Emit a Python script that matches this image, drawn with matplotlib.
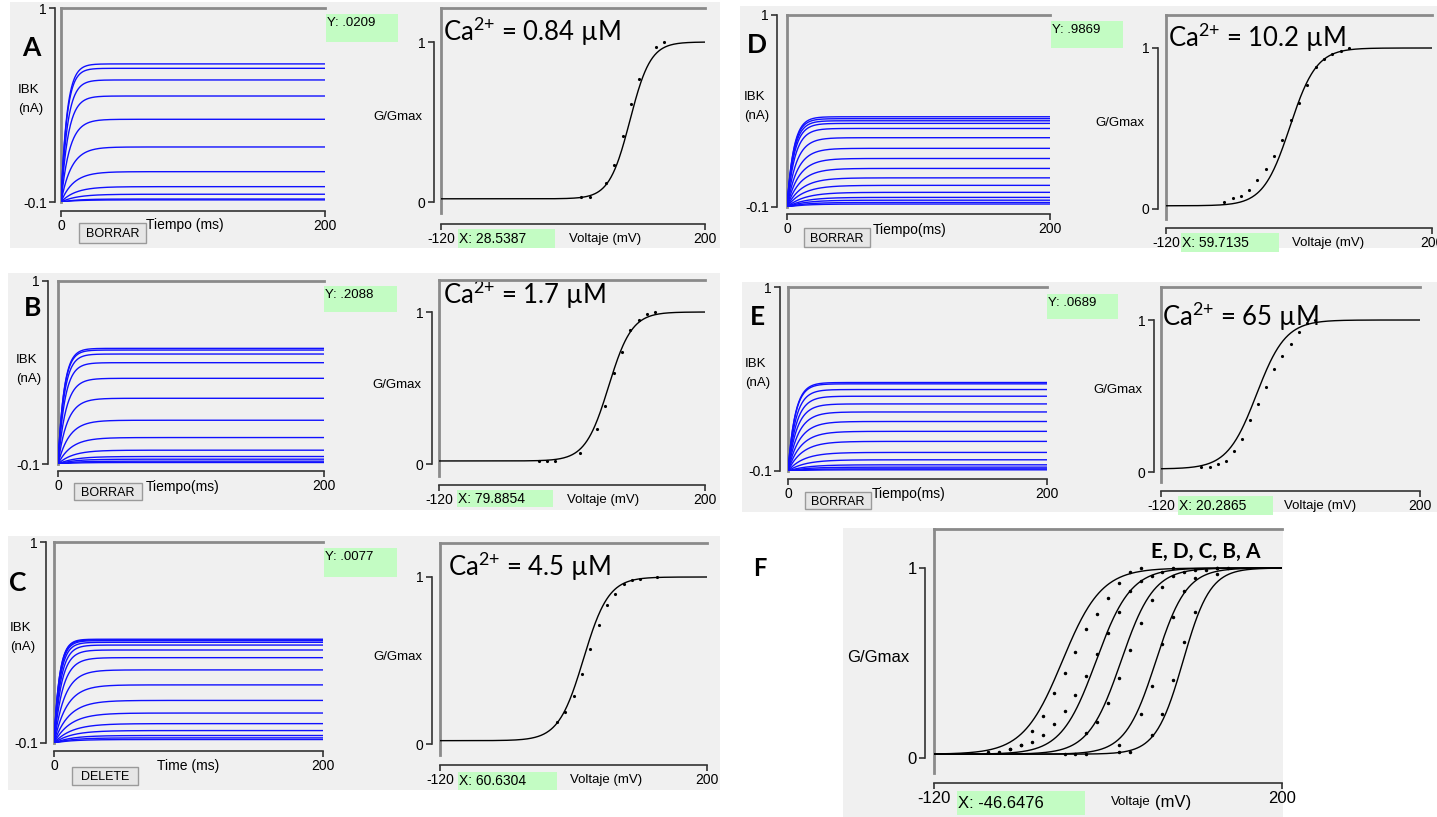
import numpy as np
import matplotlib
matplotlib.use('Agg')
import matplotlib.pyplot as plt
from matplotlib.patches import Rectangle

plt.rcParams['font.family'] = ['Liberation Sans', 'DejaVu Sans']
plt.rcParams['mathtext.fontset'] = 'custom'
plt.rcParams['mathtext.rm'] = 'Lato'
plt.rcParams['mathtext.default'] = 'rm'

# ---- data ----
# steady state current of each trace (nA) and its rise time constant (ms)
A_iss = [0.683, 0.658, 0.592, 0.501, 0.369, 0.212, 0.072, -0.013, -0.056, -0.083, -0.088]
A_tau = [4.5, 4.5, 5.0, 5.5, 6.5, 8.0, 9.5, 11, 12, 12, 12]
B_iss = [0.595, 0.585, 0.561, 0.509, 0.415, 0.295, 0.163, 0.059, -0.017, -0.055, -0.071, -0.083, -0.091]
B_tau = [4.5, 4.5, 4.8, 5.2, 6.0, 7.0, 8.5, 10, 11, 12, 12, 12, 12]
C_iss = [0.468, 0.464, 0.460, 0.451, 0.436, 0.409, 0.367, 0.300, 0.218, 0.133, 0.064, 0.006,
         -0.032, -0.059, -0.072, -0.081]
C_tau = [4.0, 4.0, 4.2, 4.5, 5.0, 5.5, 6.5, 8.0, 9.5, 11, 12, 13, 13, 13, 13, 13]
D_iss = [0.417, 0.406, 0.394, 0.379, 0.350, 0.297, 0.236, 0.178, 0.121, 0.067, 0.024, -0.016,
         -0.045, -0.061, -0.074, -0.083]
D_tau = [5.0, 5.0, 5.2, 5.5, 6.0, 7.0, 8.0, 9.0, 10, 11, 12, 13, 13, 13, 13, 13]
E_iss = [0.429, 0.421, 0.387, 0.347, 0.301, 0.253, 0.196, 0.137, 0.077, 0.011, -0.033, -0.063,
         -0.077, -0.087, -0.093]
E_tau = [5.5, 5.5, 6.0, 6.5, 7.0, 8.0, 9.0, 10, 11, 12, 13, 14, 14, 14, 14]

# G/Gmax points (mV, fraction)
A_v = [50, 60, 80, 90, 100, 110, 120, 140, 150]
A_g = [0.03, 0.03, 0.12, 0.23, 0.41, 0.61, 0.77, 0.97, 1.0]
B_v = [0, 10, 20, 50, 70, 80, 90, 100, 110, 120, 130, 140]
B_g = [0.02, 0.02, 0.02, 0.07, 0.23, 0.38, 0.60, 0.74, 0.88, 0.95, 0.99, 1.0]
C_v = [20, 30, 40, 50, 60, 70, 80, 90, 100, 110, 120, 140]
C_g = [0.13, 0.19, 0.29, 0.42, 0.57, 0.71, 0.83, 0.90, 0.96, 0.98, 0.99, 1.0]
D_v = [-50, -40, -30, -20, -10, 0, 10, 20, 30, 40, 50, 60, 70, 80, 90, 100]
D_g = [0.045, 0.066, 0.083, 0.12, 0.18, 0.25, 0.33, 0.43, 0.55, 0.66, 0.77, 0.88, 0.93, 0.96, 0.98, 1.0]
E_v = [-70, -60, -50, -40, -30, -20, -10, 0, 10, 20, 30, 40, 50, 60, 70]
E_g = [0.03, 0.03, 0.05, 0.07, 0.14, 0.22, 0.34, 0.45, 0.56, 0.68, 0.76, 0.84, 0.92, 0.98, 1.0]

# Boltzmann fit parameters: V1/2 (mV), slope (mV), baseline
vhalf = {'A': 109, 'B': 84, 'C': 52, 'D': 29, 'E': -2}
slope = {'A': 12.5, 'B': 14, 'C': 15, 'D': 16, 'E': 18}
g_base = 0.02

calcium = {'A': '0.84', 'B': '1.7', 'C': '4.5', 'D': '10.2', 'E': '65'}
cursor_y = {'A': '.0209', 'B': '.2088', 'C': '.0077', 'D': '.9869', 'E': '.0689'}
cursor_x = {'A': '28.5387', 'B': '79.8854', 'C': '60.6304', 'D': '59.7135', 'E': '20.2865', 'F': '-46.6476'}

W, H = 1437, 817
fig = plt.figure(figsize=(W / 100, H / 100), dpi=100)
fig.patch.set_facecolor('white')

bg = fig.add_axes([0, 0, 1, 1], zorder=0)
bg.set_xlim(0, W)
bg.set_ylim(H, 0)
bg.axis('off')

FRAME = '#8a8a8a'
PANEL = '#f0f0f0'
GREEN = '#c3fcc3'


def box(x0, y0, x1, y1):
    return [x0 / W, 1 - y1 / H, (x1 - x0) / W, (y1 - y0) / H]


def boltz(v, p):
    return g_base + (1 - g_base) / (1 + np.exp(-(np.asarray(v) - vhalf[p]) / slope[p]))


def frame_axes(rect, yax, xax, fl, fb, fs=10):
    ax = fig.add_axes(box(*rect), zorder=2)
    ax.set_facecolor('none')
    ax.spines['right'].set_visible(False)
    ax.spines['top'].set_color(FRAME)
    ax.spines['top'].set_linewidth(2)
    ax.spines['left'].set_position(('outward', (fl - yax) * 0.72))
    ax.spines['bottom'].set_position(('outward', (xax - fb) * 0.72))
    for s in ('left', 'bottom'):
        ax.spines[s].set_color('#333333')
        ax.spines[s].set_linewidth(1.2)
    ax.plot([0, 0], [0, 1], transform=ax.transAxes, color=FRAME, lw=2, clip_on=False)
    ax.tick_params(direction='out', length=4, width=1.2, color='#333333', labelsize=fs, pad=2)
    return ax


def current_panel(p, iss, tau, bgr, fl, ft, fr, fb, yax, xax, lab_xy, ibk_x, ibk_y,
                  ybox, button, btn_text, xlab, xlab_x):
    bg.add_patch(Rectangle((bgr[0], bgr[1]), bgr[2] - bgr[0], bgr[3] - bgr[1], color=PANEL, lw=0))
    ax = frame_axes((fl, ft, fr, fb), yax, xax, fl, fb)
    ax.set_xlim(0, 200)
    ax.set_ylim(-0.1, 1)
    ax.set_yticks([-0.1, 1], ['-0.1', '1'])
    ax.set_xticks([0, 200], ['0', '200'])
    t = np.linspace(0, 200, 500)
    for i_ss, tc in zip(iss, tau):
        ax.plot(t, -0.1 + (i_ss + 0.1) * (1 - np.exp(-t / tc)), color='#1010ff', lw=1)
    bg.text(lab_xy[0], lab_xy[1], p, fontsize=19, fontweight='bold', family=['Lato', 'DejaVu Sans'],
            ha='center', va='center')
    bg.text(ibk_x, ibk_y, 'IBK', fontsize=9.5, va='center')
    bg.text(ibk_x, ibk_y + 19, '(nA)', fontsize=9.5, va='center')
    bg.add_patch(Rectangle((ybox[0], ybox[1]), ybox[2] - ybox[0], ybox[3] - ybox[1], color=GREEN, lw=0))
    bg.text(ybox[0] + 1, ybox[1] + 9, 'Y: ' + cursor_y[p], fontsize=9.5, va='center')
    bx = button
    bg.add_patch(Rectangle((bx[0], bx[1]), bx[2] - bx[0], bx[3] - bx[1], facecolor='#e6e6e6',
                           edgecolor='#9a9a9a', lw=1))
    bg.text((bx[0] + bx[2]) / 2, (bx[1] + bx[3]) / 2 + 1, btn_text, fontsize=9, ha='center', va='center')
    bg.text(xlab_x, fb + 23, xlab, fontsize=10, ha='center', va='center')


def g_axes(rect, p1, p0, yax, xax, fs=10):
    fl, ft, fr, fb = rect
    ax = frame_axes(rect, yax, xax, fl, fb, fs)
    u = 1.0 / (p0 - p1)
    ax.set_ylim(-(fb - p0) * u, 1 + (p1 - ft) * u)
    ax.set_xlim(-120, 200)
    ax.spines['left'].set_bounds(0, 1)
    ax.set_yticks([0, 1], ['0', '1'])
    ax.set_xticks([-120, 200], ['-120', '200'])
    return ax


def g_panel(p, rect, p1, p0, yax, xax, xbox, vx, gmx, gmy, ca_x, ca_y, v, g):
    ax = g_axes(rect, p1, p0, yax, xax)
    vv = np.linspace(-120, 200, 400)
    ax.plot(vv, boltz(vv, p), color='black', lw=1)
    ax.plot(v, g, '.', color='black', ms=2.5)
    bg.add_patch(Rectangle((xbox[0], xbox[1]), xbox[2] - xbox[0], xbox[3] - xbox[1], color=GREEN, lw=0))
    bg.text(xbox[0] + 1, (xbox[1] + xbox[3]) / 2, 'X: ' + cursor_x[p], fontsize=10, va='center')
    bg.text(vx, xax + 15, 'Voltaje (mV)', fontsize=9.5, ha='center', va='center')
    bg.text(gmx, gmy, 'G/Gmax', fontsize=9.5, ha='center', va='center')
    bg.text(ca_x, ca_y, r'$\mathrm{Ca}^{2{+}}$ = ' + calcium[p] + ' µM', fontsize=18.5,
            family=['Lato', 'DejaVu Sans'], ha='left', va='center')


# A
current_panel('A', A_iss, A_tau, (10, 2, 720, 248), 61, 8, 325, 202, 55, 211, (31, 48), 18, 90,
              (326, 14, 398, 42), (79, 223, 146, 243), 'BORRAR', 'Tiempo (ms)', 185)
g_panel('A', (441, 8, 705, 213), 42, 202, 434, 224, (458, 229, 555, 248), 605, 398, 117, 443, 32, A_v, A_g)
# B
current_panel('B', B_iss, B_tau, (8, 273, 720, 510), 58, 281, 324, 464, 48, 471, (33, 308), 16, 360,
              (324, 286, 397, 312), (74, 483, 142, 500), 'BORRAR', 'Tiempo(ms)', 183)
g_panel('B', (439, 280, 705, 476), 312, 464, 432, 485, (457, 490, 553, 507), 603, 397, 385, 443, 295, B_v, B_g)
# C
current_panel('C', C_iss, C_tau, (8, 536, 720, 790), 54, 542, 323, 743, 46, 751, (18, 583), 10, 628,
              (324, 548, 397, 577), (72, 767, 138, 785), 'DELETE', 'Time (ms)', 188)
g_panel('C', (440, 543, 707, 755), 577, 744, 432, 765, (458, 772, 557, 790), 606, 398, 657, 448, 567, C_v, C_g)
# D
current_panel('D', D_iss, D_tau, (740, 6, 1437, 248), 787, 15, 1050, 207, 777, 214, (757, 45), 744, 97,
              (1051, 21, 1123, 48), (804, 228, 870, 247), 'BORRAR', 'Tiempo(ms)', 910)
g_panel('D', (1166, 15, 1432, 219), 48, 209, 1158, 228, (1181, 233, 1279, 252), 1328, 1120, 123, 1168, 38, D_v, D_g)
# E
current_panel('E', E_iss, E_tau, (742, 282, 1437, 512), 788, 287, 1047, 471, 780, 479, (757, 317), 745, 364,
              (1047, 294, 1118, 319), (805, 492, 871, 509), 'BORRAR', 'Tiempo(ms)', 909)
g_panel('E', (1161, 287, 1420, 482), 320, 472, 1154, 491, (1178, 496, 1273, 515), 1320, 1118, 390, 1162, 317, E_v, E_g)

# F: all five fits together
bg.add_patch(Rectangle((843, 528), 1283 - 843, 817 - 528, color=PANEL, lw=0))
axF = g_axes((934, 529, 1282, 773), 568, 758, 925, 783, fs=12)
vv = np.linspace(-120, 200, 400)
for p, v, g in [('E', E_v, E_g), ('D', D_v, D_g), ('C', C_v, C_g), ('B', B_v, B_g), ('A', A_v, A_g)]:
    axF.plot(vv, boltz(vv, p), color='black', lw=1)
    axF.plot(v, g, '.', color='black', ms=3)
bg.text(760, 568, 'F', fontsize=17, fontweight='bold', family=['Lato', 'DejaVu Sans'], ha='center', va='center')
bg.text(1206, 552, 'E, D, C, B, A', fontsize=15, fontweight='bold', family=['Lato', 'DejaVu Sans'],
        ha='center', va='center')
bg.text(878, 658, 'G/Gmax', fontsize=12, ha='center', va='center')
bg.add_patch(Rectangle((957, 791), 1085 - 957, 815 - 791, color=GREEN, lw=0))
bg.text(958, 803, 'X: ' + cursor_x['F'], fontsize=12, va='center')
bg.text(1151, 802, 'Voltaje', fontsize=9.5, ha='right', va='center')
bg.text(1155, 802, '(mV)', fontsize=12, ha='left', va='center')

fig.savefig('out.png', dpi=100)
